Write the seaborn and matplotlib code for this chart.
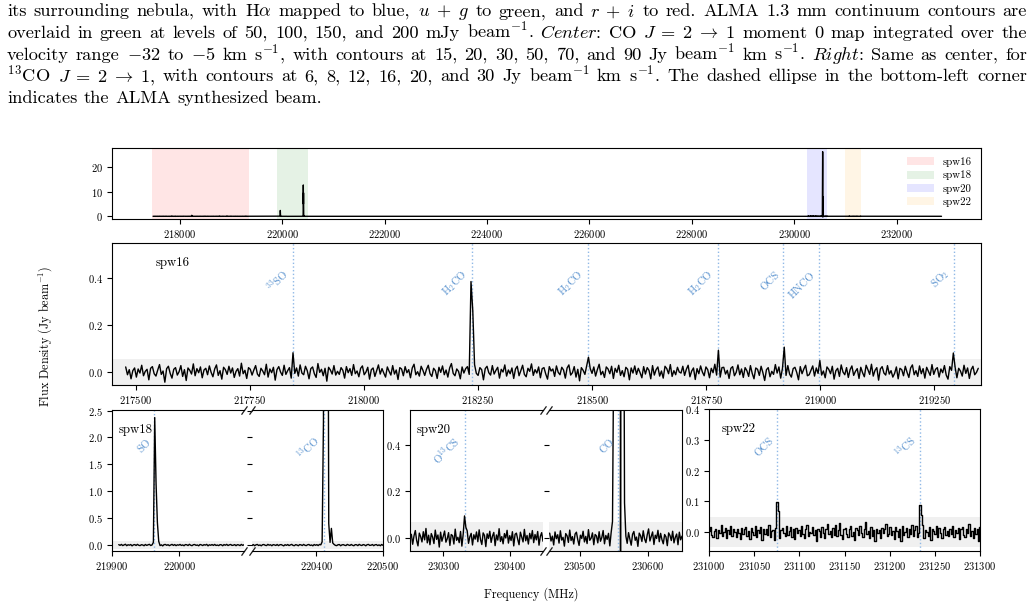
import numpy as np
import matplotlib
matplotlib.use("Agg")
import matplotlib.pyplot as plt
import seaborn as sns
from matplotlib.patches import Patch

# ------------------------------------------------------------------ data
# caption text (justified paragraph above the chart)
caption_lines = [
    r"its surrounding nebula, with H$\alpha$ mapped to blue, $u\;+\;g$ to green, and $r\;+\;i$ to red.  ALMA 1.3 mm continuum contours are",
    r"overlaid in green at levels of 50, 100, 150, and 200 mJy beam$^{-1}$. $\mathit{Center}$: CO $J\;=\;2\;\rightarrow\;1$ moment 0 map integrated over the",
    r"velocity range $-32$ to $-5$ km s$^{-1}$, with contours at 15, 20, 30, 50, 70, and 90 Jy beam$^{-1}$ km s$^{-1}$. $\mathit{Right}$: Same as center, for",
    r"$^{13}$CO $J\;=\;2\;\rightarrow\;1$, with contours at 6, 8, 12, 16, 20, and 30 Jy beam$^{-1}$ km s$^{-1}$. The dashed ellipse in the bottom-left corner",
    r"indicates the ALMA synthesized beam.",
]
caption_justify = [True, True, True, True, False]

# spectral windows (MHz)
spw_names = ["spw16", "spw18", "spw20", "spw22"]
spw_lo = [217448.0, 219900.0, 230250.0, 231000.0]
spw_hi = [219352.0, 220500.0, 230650.0, 231300.0]
spw_colors = ["red", "green", "blue", "orange"]
spw_band = [0.055, 0.075, 0.069, 0.049]          # shaded noise band (Jy/beam)
spw_noise_unit = [1.45e-3, 1.0e-3, 1.0e-3, 1.0e-3]  # Jy/beam per count of the noise lists

# spw16 : 217478 - 219346 MHz, noise counts
spw16_range = [217478.0, 219346.0]
spw16_noise = [
    14, -9, 6, -21, 3, 11, -16, 8, -4, 19, -12, 1, 7, -24, 10, 15, -6, -13, 5, 21, -8, 2, -31, 9,
    16, -5, -19, 7, 12, -10, 0, 18, -14, 6, -26, 11, 4, -7, 23, -12, 9, -3, 14, -18, 5, 10, -9, 17,
    -2, -15, 8, 20, -11, 3, -22, 13, 6, -8, 16, -4, 11, -17, 1, 9, -13, 25, -6, 4, -20, 12, 7, -10,
    5, 18, -7, -14, 10, 2, -9, 22, -16, 8, -3, 13, -25, 6, 15, -1, -11, 19, -8, 3, 12, -19, 7, -5,
    11, -13, 20, -4, -9, 16, 3, -21, 9, 14, -6, -17, 24, -2, 7, -12, 10, -28, 13, 5, -7, 18, -10, 1,
    -8, 12, 4, -19, 15, -3, 9, -11, 21, -6, 2, -15, 10, 17, -9, -1, 13, -22, 6, 11, -14, 3, 20, -7,
    9, -4, -16, 14, 1, -10, 18, -7, 5, -23, 12, 8, -12, 15, -3, 6, -18, 11, 22, -9, 0, -13, 16, 4,
    -11, 7, 19, -6, -14, 10, 3, -20, 13, -2, 17, -9, 5, -16, 11, 24, -5, -12, 8, 1, -21, 14, -4, 9,
    15, -8, 2, -17, 21, -5, -11, 12, 6, -24, 9, 16, -3, -10, 18, -7, 4, 13, -19, 7, -1, 20, -13, 5,
    -6, 11, -20, 8, 16, -12, 3, 19, -8, -15, 10, 1, 23, -11, 6, -4, 14, -18, 9, 12, -7, -22, 15, 2,
    8, -14, 17, -2, -9, 13, 5, -19, 11, 20, -10, -3, 15, -16, 7, -27, 12, 4, -8, 18, -12, 9, -5, 14,
    -13, 6, 22, -9, 1, -17, 14, 8, -6, 16, -20, 10, -2, 19, -11, 3, -15, 13, 7, -24, 11, -4, 17, -8,
    10, -3, -18, 15, -7, 12, 4, -21, 18, -10, 6, 14, -13, 2, -19, 16, 9, -6, 21, -14, 3, -9, 13, -1,
    -4, 16, -11, 7, 19, -15, 2, 11, -23, 9, -6, 17, -1, -12, 14, 6, -18, 10, -3, 22, -10, 5, -16, 12,
    13, -7, 4, -20, 10, 15, -12, -2, 20, -9, 8, -17, 12, 3, -14, 18, -5, -21, 11, 7, -11, 16, -3, -26,
    6, 12, -15, 1, -8, 21, -4, 14, -19, 10, 5, -11, 18, -7, -16, 9, 13, -2, -24, 15, -6, 8, 19, -12,
    -9, 4, 17, -13, 11, -5, 23, -10, 2, -18, 14, 7, -6, 16, -22, 3, 10, -14, 20, -1, -9, 12, -17, 6,
    17, -11, 1, 9, -20, 13, -3, -15, 19, 6, -8, 22, -13, 4, 12, -25, 8, 15, -4, -10, 18, -7, 3, -16,
    -5, 14, -21, 10, 6, -12, 16, -2, -17, 11, 20, -9, 3, -14, 17, -6, 9, -19, 13, 1, -11, 21, -8, 7,
    12, -16, 8, -3, 18, -10, -22, 15, 4, -7, 13, -18, 10, 2, -13, 19, -5, 11, -20, 6, 16, -9, -2, 10,
]
spw16_line_names = [r"$^{33}$SO", r"H$_2$CO", r"H$_2$CO", r"H$_2$CO", "OCS", "HNCO", r"SO$_2$"]
spw16_line_freq = [217845.0, 218236.0, 218490.0, 218775.0, 218919.0, 218997.0, 219293.0]
spw16_line_prof = [[0.081], [0.386, 0.262], [0.062], [0.092], [0.105], [0.048], [0.080]]

# spw18 : two pieces either side of the axis break
spw18a_range = [219910.0, 220098.0]
spw18a_noise = [
    8, -5, 12, -9, 3, 15, -11, 6, -2, 10, -14, 4, 9, -7, 13, -3, -10, 7, 2, -12, 11, -6, 5, 14,
    -8, 3, 10, -13, 6, -1, 12, -9, 4, -15, 8, 11, -4, 7, -11, 2, 13, -6, 9, -10, 5, -2, 12, -7,
    3, -12, 9, 6, -8, 14, -3, -11, 7, 10, -5, 2, -13, 11, 4, -9, 8, -1, 13, -14, 6, -4, 10, -6,
    12, -7, 1, -10, 8, 5, -12, 9, -3, 13, -8, 4, 11, -6, -2, 9, -11, 7, 3, -9, 12, -5, 6, -13,
]
spw18b_range = [220304.0, 220500.0]
spw18b_noise = [
    -6, 9, -11, 4, 12, -8, 2, -13, 7, 10, -4, -9, 13, -2, 6, -12, 8, 3, -7, 11, -10, 5, 9, -3, -14,
    7, -5, 10, -9, 3, 13, -6, -11, 8, 1, -12, 9, 4, -8, 12, -3, -10, 6, 11, -7, 2, -13, 10, -4, 8,
    -9, 12, 5, -6, -11, 9, 3, -14, 11, -2, 7, -8, 13, -5, -10, 6, 10, -12, 4, 8, -3, -9, 12, 1, -7,
    11, -4, -12, 8, 6, -10, 13, -1, -8, 9, 3, -13, 7, 12, -6, -2, 10, -11, 5, 9, -9, 4, -12, 11, -5,
]
spw18_line_names = ["SO", r"$^{13}$CO"]
spw18_line_freq = [219963.0, 220412.0]
spw18_line_prof = [[0.05, 2.37, 1.15, 0.42, 0.07],
                   [0.06, 2.3, 12.7, 5.0, 9.5, 0.4, 0.05, 0.31, 0.04]]

# spw20 : two pieces either side of the axis break
spw20a_range = [230252.0, 230450.0]
spw20a_noise = [
    15, -28, 8, 31, -12, -35, 20, 5, -18, 26, -9, 40, -22, 11, -30, 18, 3, -25, 33, -7, 12, -40, 24, -15, 6,
    29, -19, -4, 22, -33, 14, 9, -27, 37, -11, 2, -21, 27, -36, 16, 8, -14, 30, -24, 4, 19, -31, 13, -6, 25,
    -17, 34, -8, -29, 21, 10, -38, 17, -3, 28, -20, 7, 23, -34, 12, -10, 39, -16, 5, -26, 18, -1, 32, -23, 9,
    -12, 26, -35, 15, 20, -7, -30, 24, 3, -18, 36, -13, 10, -27, 19, -5, 31, -21, 14, -9, 27, -32, 6, 22, -15,
]
spw20b_range = [230456.0, 230650.0]
spw20b_noise = [
    20, -14, 7, -31, 25, -4, 13, -23, 30, -10, 2, -36, 18, 9, -20, 33, -12, 5, -27, 16, 24, -8, -33, 11, -3,
    28, -18, 6, -25, 35, -11, -2, 21, -30, 14, 8, -22, 26, -15, 1, 31, -26, 10, -7, 19, -35, 23, 4, -13, 29,
    -9, 17, -28, 12, -1, 34, -19, 7, -24, 22, -6, -32, 15, 27, -11, 3, -37, 20, 9, -16, 30, -5, -21, 13, 38,
    -14, 6, 25, -29, 11, -3, 32, -17, 19, -8, -26, 14, 4, -34, 21, 10, -12, 28, -22, 2, 16, -30, 24, -9, 7,
]
spw20_line_names = [r"O$^{13}$CS", "CO"]
spw20_line_freq = [230332.0, 230556.0]
spw20_line_prof = [[0.094, 0.045],
                   [0.07, 0.9, 7.0, 19.0, 26.2, 21.0, -0.3, 8.0, 2.0, 0.15]]

# spw22
spw22_range = [231000.0, 231300.0]
spw22_noise = [
    5, 18, -9, -15, 3, 12, -20, 8, -4, 22, -11, 2, 14, -18, 6, -7, 19, -13, 10, 1, -16, 11, -3, -23, 15,
    -6, 9, 17, -12, 4, -21, 13, 2, -8, 20, -14, 7, -1, 16, -24, 10, -5, 12, -10, 25, -17, 3, 8, -26, 14,
    11, -8, -19, 6, 15, -2, -13, 21, -9, 4, 18, -15, 9, -22, 13, -3, 7, -12, 19, -6, -18, 10, 24, -11, 2,
    -4, 16, -10, 8, -27, 12, 5, -14, 17, -1, -20, 11, 26, -7, 3, -16, 14, -9, 22, -13, 6, 30, -8, -21, 9,
    13, -5, -17, 10, 19, -12, 2, -24, 15, 7, -9, 21, -3, -15, 11, 33, -6, 4, -19, 16, -11, 8, -28, 12, -2,
    7, -20, 14, -4, 9, 27, -13, -6, 18, -10, 3, -22, 16, 5, -14, 12, -30, 20, -8, 1, 15, -17, 10, -5, 23,
    -11, 6, 20, -15, -3, 12, -9, 24, -18, 8, 2, -12, 17, -25, 10, 4, -7, 19, -14, 13, -2, -20, 9, 16, -10,
    4, -13, 11, -6, 21, -16, 7, -3, 14, -22, 9, 18, -8, -14, 12, -4, 26, -11, 5, -19, 15, -7, 10, -30, 18,
]
spw22_line_names = ["OCS", r"$^{13}$CS"]
spw22_line_freq = [231075.0, 231234.0]
spw22_line_prof = [[0.097, 0.068], [0.088, 0.055]]

# wide continuum window only visible in the overview panel
spw_cont_freq = [231940.0, 232877.0]
spw_cont_flux = [0.0, 0.0]

# ------------------------------------------------------------------ style
sns.set_theme(style="ticks")
plt.rcParams.update({
    "font.family": ["cmr10", "DejaVu Serif"],
    "mathtext.fontset": "cm",
    "axes.unicode_minus": False,
    "axes.formatter.use_mathtext": True,
    "axes.formatter.useoffset": False,
    "axes.edgecolor": "black",
    "axes.linewidth": 0.8,
    "text.color": "black",
    "xtick.color": "black",
    "ytick.color": "black",
    "xtick.major.size": 3.5,
    "ytick.major.size": 3.5,
    "xtick.major.width": 0.8,
    "ytick.major.width": 0.8,
    "xtick.labelsize": 7.6,
    "ytick.labelsize": 7.6,
    "xtick.major.pad": 3,
    "ytick.major.pad": 3,
})

W, H = 1035, 607
fig = plt.figure(figsize=(W / 100, H / 100), dpi=100)


def px_axes(l, t, r, b):
    return fig.add_axes([l / W, (H - b) / H, (r - l) / W, (b - t) / H])


def spectrum(rng, noise, unit, freqs, profs):
    f = np.linspace(rng[0], rng[1], len(noise))
    y = np.asarray(noise, float) * unit
    for c, p in zip(freqs, profs):
        if c < f[0] - 2 or c > f[-1] + 2:
            continue
        p = np.asarray(p, float)
        i0 = int(np.argmin(np.abs(f - c))) - int(np.argmax(p))
        y[i0:i0 + len(p)] = p
    return f, y


LINE_C = "#8fb8e6"
LAB_C = "#5b93cf"


def draw(ax, f, y, band, names, freqs, steps=False):
    ax.axhspan(-band, band, color="0.94", lw=0, zorder=0)
    kw = dict(drawstyle="steps-mid") if steps else {}
    sns.lineplot(x=f, y=y, ax=ax, color="black", lw=1.0, estimator=None, sort=False,
                 zorder=3, **kw)
    lo, hi = ax.get_xlim()
    for n, c in zip(names, freqs):
        if lo <= c <= hi:
            ax.axvline(c, color=LINE_C, ls=":", lw=1.0, zorder=1)
            ax.annotate(n, xy=(c, 0.76), xycoords=("data", "axes fraction"),
                        xytext=(-1, 0), textcoords="offset points", rotation=45,
                        rotation_mode="anchor", ha="right", va="bottom",
                        fontsize=7.8, color=LAB_C)
    ax.set_xlabel("")
    ax.set_ylabel("")


def break_marks(ax, side):
    x = 1 if side == "right" else 0
    ax.plot([x, x], [0, 1], transform=ax.transAxes, marker=[(-1, -1.4), (1, 1.4)],
            markersize=6, ls="none", color="k", mec="k", mew=0.9, clip_on=False)


# build spectra
f16, y16 = spectrum(spw16_range, spw16_noise, spw_noise_unit[0], spw16_line_freq, spw16_line_prof)
f18a, y18a = spectrum(spw18a_range, spw18a_noise, spw_noise_unit[1], spw18_line_freq, spw18_line_prof)
f18b, y18b = spectrum(spw18b_range, spw18b_noise, spw_noise_unit[1], spw18_line_freq, spw18_line_prof)
f20a, y20a = spectrum(spw20a_range, spw20a_noise, spw_noise_unit[2], spw20_line_freq, spw20_line_prof)
f20b, y20b = spectrum(spw20b_range, spw20b_noise, spw_noise_unit[2], spw20_line_freq, spw20_line_prof)
f22, y22 = spectrum(spw22_range, spw22_noise, spw_noise_unit[3], spw22_line_freq, spw22_line_prof)

# ------------------------------------------------------------------ overview
ax0 = px_axes(112, 148, 981, 219)
fall = np.concatenate([f16, f18a, f18b, f20a, f20b, f22, spw_cont_freq])
yall = np.concatenate([y16, y18a, y18b, y20a, y20b, y22, spw_cont_flux])
for lo, hi, c in zip(spw_lo, spw_hi, spw_colors):
    ax0.axvspan(lo, hi, color=c, alpha=0.1, lw=0, zorder=0)
sns.lineplot(x=fall, y=yall, ax=ax0, color="black", lw=1.0, estimator=None, sort=False)
ax0.set_ylim(-1.1, 27.7)
ax0.set_yticks([0, 10, 20])
ax0.set_xticks(np.arange(218000, 233000, 2000))
ax0.set_xlabel("")
ax0.set_ylabel("")
handles = [Patch(facecolor=c, alpha=0.1, edgecolor="none", label=n)
           for n, c in zip(spw_names, spw_colors)]
ax0.legend(handles=handles, loc="upper right", frameon=False, fontsize=7.8,
           handlelength=2.5, handleheight=0.75, labelspacing=0.3,
           borderaxespad=0.55, handletextpad=0.8, borderpad=0.3)

# ------------------------------------------------------------------ spw16
ax1 = px_axes(112, 243, 981, 385)
ax1.set_xlim(spw_lo[0], spw_hi[0])
ax1.set_ylim(-0.057, 0.551)
draw(ax1, f16, y16, spw_band[0], spw16_line_names, spw16_line_freq)
ax1.set_xticks(np.arange(217500, 219300, 250))
ax1.set_yticks([0.0, 0.2, 0.4])
ax1.text(0.05, 0.86, "spw16", transform=ax1.transAxes, fontsize=9.2, va="center")

# ------------------------------------------------------------------ broken panels
def broken(l1, r1, l2, r2, xl1, xl2, ylim, yt, xt1, xt2, data1, data2, band,
           names, freqs, label):
    a = px_axes(l1, 410, r1, 551)
    b = px_axes(l2, 410, r2, 551)
    a.set_xlim(*xl1)
    b.set_xlim(*xl2)
    for ax in (a, b):
        ax.set_ylim(*ylim)
    draw(a, *data1, band, names, freqs)
    draw(b, *data2, band, names, freqs)
    a.set_xticks(xt1)
    b.set_xticks(xt2)
    a.set_yticks(yt)
    b.set_yticks(yt)
    a.spines["right"].set_visible(False)
    b.spines["left"].set_visible(False)
    b.tick_params(axis="y", labelleft=False)
    break_marks(a, "right")
    break_marks(b, "left")
    a.text(0.05, 0.86, label, transform=a.transAxes, fontsize=9.2, va="center")
    return a, b


broken(112, 244, 252, 383, (219900, 220096), (220304, 220500), (-0.11, 2.51),
       [0, 0.5, 1.0, 1.5, 2.0, 2.5], [219900, 220000], [220400, 220500],
       (f18a, y18a), (f18b, y18b), spw_band[1], spw18_line_names, spw18_line_freq, "spw18")

broken(410, 543, 549, 682, (230250, 230450), (230455, 230650), (-0.057, 0.55),
       [0.0, 0.2, 0.4], [230300, 230400], [230500, 230600],
       (f20a, y20a), (f20b, y20b), spw_band[2], spw20_line_names, spw20_line_freq, "spw20")

# ------------------------------------------------------------------ spw22
ax4 = px_axes(709, 409, 980, 551)
ax4.set_xlim(spw_lo[3], spw_hi[3])
ax4.set_ylim(-0.061, 0.4)
draw(ax4, f22, y22, spw_band[3], spw22_line_names, spw22_line_freq, steps=True)
ax4.set_xticks(np.arange(231000, 231301, 50))
ax4.set_yticks([0.0, 0.1, 0.2, 0.3, 0.4])
ax4.text(0.047, 0.86, "spw22", transform=ax4.transAxes, fontsize=9.2, va="center")

# ------------------------------------------------------------------ shared labels
fig.text(45 / W, (H - 336) / H, r"Flux Density (Jy beam$^{-1}$)", rotation=90,
         ha="center", va="center", fontsize=8.8)
fig.text(531 / W, (H - 594) / H, "Frequency (MHz)", ha="center", va="center", fontsize=8.8)

# ------------------------------------------------------------------ caption (justified)
CAP_FS = 13.2
CAP_L, CAP_R = 7.0, 1027.0
cap_base = [16.2, 37.9, 59.6, 81.3, 103.0]


def split_tokens(s):
    out, cur, math = [], "", False
    for ch in s:
        if ch == "$":
            math = not math
        if ch == " " and not math:
            if cur:
                out.append(cur)
                cur = ""
        else:
            cur += ch
    if cur:
        out.append(cur)
    return out


renderer = fig.canvas.get_renderer()
space_px = 0.333 * CAP_FS * 100 / 72
for line, just, base in zip(caption_lines, caption_justify, cap_base):
    toks = split_tokens(line)
    texts = [fig.text(0, (H - base) / H, t, fontsize=CAP_FS, va="baseline", ha="left")
             for t in toks]
    widths = [t.get_window_extent(renderer).width for t in texts]
    if just and len(toks) > 1:
        gap = (CAP_R - CAP_L - sum(widths)) / (len(toks) - 1)
        gap = max(gap, 0.3 * space_px)
    else:
        gap = space_px
    x = CAP_L
    for t, w in zip(texts, widths):
        t.set_x(x / W)
        x += w + gap

fig.savefig("out.png", dpi=100)
